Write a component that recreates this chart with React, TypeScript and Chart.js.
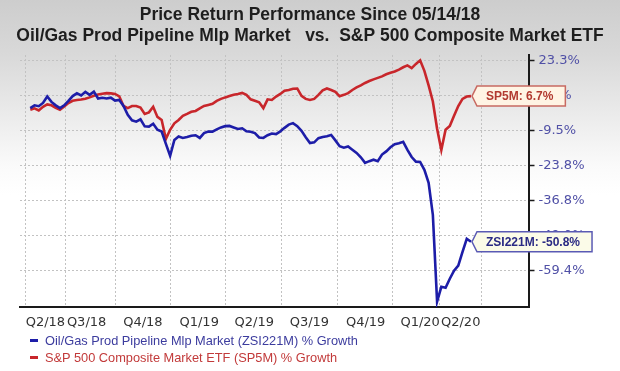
import React, { useEffect, useRef } from 'react';
import { Chart, LineController, LineElement, PointElement, LinearScale, Title } from 'chart.js';

// ---------- data ----------
const START = Date.UTC(2018, 4, 14); // 05/14/18
const dayOf = (s: string) => Math.round((Date.parse(s + 'T00:00:00Z') - START) / 86400000);

const TITLE_LINES = [
  'Price Return Performance Since 05/14/18',
  'Oil/Gas Prod Pipeline Mlp Market   vs.  S&P 500 Composite Market ETF',
];
const SERIES_NAMES = [
  'Oil/Gas Prod Pipeline Mlp Market (ZSI221M) % Growth',
  'S&P 500 Composite Market ETF (SP5M) % Growth',
];
const SERIES_CODES = ['ZSI221M', 'SP5M'];

// weekly % growth since 05/14/18
const ZSI221M = [
  1.1, 2.4, 2.0, 3.5, 6.5, 4.0, 2.4, 1.1, 2.4, 4.5,
  6.7, 8.0, 7.0, 8.7, 7.3, 8.8, 5.6, 5.9, 5.6, 6.0,
  4.6, 4.9, 2.1, -2.0, -4.6, -5.2, -4.1, -7.4, -7.5, -6.2,
  -9.0, -9.8, -14.8, -19.7, -13.2, -11.8, -12.4, -12.0, -11.5, -11.3,
  -12.4, -10.4, -9.8, -9.8, -8.8, -7.9, -7.3, -7.2, -7.9, -8.6,
  -8.3, -9.7, -9.9, -10.4, -12.2, -12.4, -11.3, -10.6, -10.8, -9.7,
  -8.1, -6.6, -5.9, -7.3, -9.5, -12.1, -14.5, -14.2, -12.5, -12.0,
  -11.7, -11.2, -13.4, -15.8, -16.4, -15.9, -17.2, -18.5, -20.3, -22.6,
  -21.9, -21.3, -21.9, -19.2, -17.9, -16.2, -15.0, -14.6, -14.0, -17.3,
  -20.2, -22.1, -22.2, -25.3, -30.1, -41.7, -68.6, -64.2, -64.5, -61.8,
  -59.4, -57.9, -53.8, -49.9, -50.8,
];
const SP5M = [
  0.3, 1.0, 0.0, 1.7, 2.8, 2.4, 1.2, 0.3, 1.9, 3.5,
  4.5, 4.9, 5.1, 5.5, 6.1, 6.9, 7.5, 7.8, 8.1, 8.0,
  7.7, 6.6, 2.1, 1.1, 2.1, 2.1, 1.4, -1.6, -0.9, 1.7,
  -3.0, -4.4, -12.8, -9.0, -6.0, -4.4, -2.5, -1.6, -0.6, -0.2,
  1.0, 2.1, 2.6, 3.1, 4.5, 5.4, 6.1, 6.7, 7.3, 7.7,
  8.2, 7.3, 5.2, 4.5, 3.8, 1.1, 5.2, 4.9, 6.5, 7.7,
  9.2, 9.6, 10.2, 10.3, 6.8, 5.4, 4.9, 5.4, 7.3, 9.4,
  10.3, 9.6, 8.7, 6.6, 7.3, 8.1, 9.6, 10.8, 11.8, 12.9,
  13.8, 14.6, 15.3, 16.0, 17.0, 17.7, 18.3, 19.2, 20.3, 21.2,
  19.9, 21.9, 23.6, 18.6, 11.8, 4.2, -8.5, -17.3, -9.0, -7.2,
  -2.5, 2.1, 5.4, 6.5, 6.7,
];
// weekly observation dates (days since start)
const OBS_DAYS = ZSI221M.map((_, i) => 7 * i);

const Y_TICKS = [23.3, 6.8, -9.5, -23.8, -36.8, -49.0, -59.4];
const Y_MIN = -70.2;
const Y_MAX = 26.1;

const X_MIN = dayOf('2018-04-27');
const X_MAX = dayOf('2020-08-14');
const X_GRID_DATES = ['2018-05-06', '2018-07-11', '2018-10-02', '2019-01-01', '2019-04-02', '2019-07-03', '2019-10-03', '2020-01-03', '2020-03-20', '2020-05-28'];
const X_LABELS = ['Q2/18', 'Q3/18', 'Q4/18', 'Q1/19', 'Q2/19', 'Q3/19', 'Q4/19', 'Q1/20', 'Q2/20'];
const X_LABEL_DATES = ['2018-06-08', '2018-08-15', '2018-11-16', '2019-02-17', '2019-05-19', '2019-08-18', '2019-11-19', '2020-02-17', '2020-04-24'];

// ---------- styles ----------
const SANS = '"Liberation Sans", Arial, sans-serif';
const COLORS = ['#1d1da8', '#c8262b'];
const LEGEND_TEXT = ['#3c3c9e', '#c23a3a'];
const CALLOUT = [
  { fill: '#fbfbe8', border: '#5a5ab4', text: '#2a2a84' },
  { fill: '#fff4e4', border: '#c86a62', text: '#b23a30' },
];
const GRID = '#c2c2c2';

// ---------- piecewise y scale ----------
const Y_ASC = [...Y_TICKS].sort((a, b) => a - b);
function yPos(v: number): number {
  const t = Y_ASC;
  const n = t.length;
  let i = 0;
  while (i < n - 2 && v > t[i + 1]) i++;
  return i + (v - t[i]) / (t[i + 1] - t[i]);
}
function yVal(p: number): number {
  const t = Y_ASC;
  const n = t.length;
  const i = Math.max(0, Math.min(n - 2, Math.floor(p)));
  return t[i] + (p - i) * (t[i + 1] - t[i]);
}
class PiecewiseScale extends LinearScale {
  static id = 'piecewise';
  static defaults = LinearScale.defaults;
  buildTicks() {
    return Y_TICKS.map((v) => ({ value: v }));
  }
  getPixelForValue(value: any) {
    if (value === null || value === undefined || isNaN(value)) return NaN;
    const a = yPos(this.min);
    const b = yPos(this.max);
    return this.getPixelForDecimal((yPos(value) - a) / (b - a));
  }
  getValueForPixel(pixel: number) {
    const a = yPos(this.min);
    const b = yPos(this.max);
    return yVal(a + this.getDecimalForPixel(pixel) * (b - a));
  }
}

Chart.register(LineController, LineElement, PointElement, LinearScale, Title, PiecewiseScale);

const calloutPlugin = {
  id: 'callouts',
  afterDatasetsDraw(chart: any) {
    const ctx = chart.ctx;
    chart.data.datasets.forEach((ds: any, i: number) => {
      const meta = chart.getDatasetMeta(i);
      const pt = meta.data[meta.data.length - 1];
      if (!pt) return;
      const last = ds.data[ds.data.length - 1].y;
      const text = `${SERIES_CODES[i]}: ${last.toFixed(1)}%`;
      const st = CALLOUT[i];
      ctx.save();
      ctx.font = `bold 12px ${SANS}`;
      const tw = ctx.measureText(text).width;
      const x0 = pt.x + 1;
      const y0 = pt.y;
      const h = 10;
      const x1 = x0 + 5;
      const x2 = x0 + 14 + tw + 12;
      ctx.beginPath();
      ctx.moveTo(x0, y0);
      ctx.lineTo(x1, y0 - h);
      ctx.lineTo(x2, y0 - h);
      ctx.lineTo(x2, y0 + h);
      ctx.lineTo(x1, y0 + h);
      ctx.closePath();
      ctx.fillStyle = st.fill;
      ctx.fill();
      ctx.lineWidth = 1.5;
      ctx.strokeStyle = st.border;
      ctx.stroke();
      ctx.fillStyle = st.text;
      ctx.textBaseline = 'middle';
      ctx.textAlign = 'left';
      ctx.fillText(text, x0 + 14, y0 + 0.5);
      ctx.restore();
    });
  },
};

export default function App() {
  const ref = useRef<HTMLCanvasElement | null>(null);

  useEffect(() => {
    if (!ref.current) return;
    const chart = new Chart(ref.current, {
      type: 'line',
      data: {
        datasets: [
          {
            label: SERIES_NAMES[0],
            data: ZSI221M.map((v, i) => ({ x: OBS_DAYS[i], y: v })),
            borderColor: COLORS[0],
            borderWidth: 2.6,
            pointRadius: 0,
            tension: 0,
            xAxisID: 'x',
            yAxisID: 'y',
          },
          {
            label: SERIES_NAMES[1],
            data: SP5M.map((v, i) => ({ x: OBS_DAYS[i], y: v })),
            borderColor: COLORS[1],
            borderWidth: 2.6,
            pointRadius: 0,
            tension: 0,
            xAxisID: 'x',
            yAxisID: 'y',
          },
        ],
      },
      options: {
        responsive: false,
        animation: false,
        events: [],
        layout: { padding: { left: 0, right: 0, top: 0, bottom: 37 } },
        plugins: {
          title: {
            display: true,
            text: TITLE_LINES,
            color: '#1e1e1e',
            font: { family: SANS, size: 17.5, weight: 'bold', lineHeight: 1.22 },
            padding: { top: 4, bottom: 8.3 },
          },
        },
        scales: {
          x: {
            type: 'linear',
            position: 'bottom',
            min: X_MIN,
            max: X_MAX,
            weight: 0,
            afterBuildTicks: (ax: any) => {
              ax.ticks = X_GRID_DATES.map((d) => ({ value: dayOf(d) }));
            },
            ticks: { display: false },
            grid: { color: GRID, drawTicks: false, lineWidth: 1 },
            border: { display: true, color: '#1a1a1a', width: 2, dash: [2, 2] },
            afterFit: (s: any) => {
              s.height = 1;
            },
          },
          x2: {
            type: 'linear',
            position: 'bottom',
            min: X_MIN,
            max: X_MAX,
            weight: 1,
            afterBuildTicks: (ax: any) => {
              ax.ticks = X_LABEL_DATES.map((d) => ({ value: dayOf(d) }));
            },
            ticks: {
              autoSkip: false,
              maxRotation: 0,
              padding: 7,
              color: '#333333',
              font: { family: '"DejaVu Sans", Verdana, sans-serif', size: 13 },
              callback: (_v: any, i: number) => X_LABELS[i],
            },
            grid: { display: false, drawTicks: false },
            border: { display: false },
            afterFit: (s: any) => {
              s.height = 26;
            },
          },
          yl: {
            type: 'linear',
            position: 'left',
            ticks: { display: false },
            grid: { display: false, drawTicks: false },
            border: { display: false },
            afterFit: (s: any) => {
              s.width = 20;
            },
          },
          y: {
            type: 'piecewise',
            position: 'right',
            min: Y_MIN,
            max: Y_MAX,
            ticks: {
              autoSkip: false,
              padding: 4,
              color: '#5050a6',
              font: { family: '"DejaVu Sans", Verdana, sans-serif', size: 13 },
              callback: (v: any) => `${Number(v).toFixed(1)}%`,
            },
            grid: { color: GRID, tickColor: '#1a1a1a', tickLength: 6, tickWidth: 1.5, drawTicks: true },
            border: { display: true, color: '#1a1a1a', width: 2, dash: [2, 2] },
            afterFit: (s: any) => {
              s.width = 91.5;
            },
          },
        } as any,
      },
      plugins: [calloutPlugin],
    } as any);
    return () => chart.destroy();
  }, []);

  return (
    <div
      style={{
        position: 'fixed',
        left: 0,
        top: 0,
        width: 620,
        height: 371,
        overflow: 'hidden',
        background: 'linear-gradient(to bottom, #cdcdcd 0px, #d9d9d9 55px, #ebebeb 115px, #fafafa 165px, #ffffff 195px)',
      }}
    >
      <canvas ref={ref} width={620} height={371} style={{ display: 'block', position: 'absolute', left: 0, top: 0 }} />
      {SERIES_NAMES.map((name, i) => (
        <div
          key={name}
          style={{
            position: 'absolute',
            left: 30,
            top: 332 + i * 17,
            height: 17,
            lineHeight: '17px',
            fontFamily: SANS,
            fontSize: 12.8,
            color: LEGEND_TEXT[i],
            whiteSpace: 'nowrap',
            display: 'flex',
            alignItems: 'center',
          }}
        >
          <span style={{ display: 'inline-block', width: 8, height: 3, background: COLORS[i], marginRight: 7 }} />
          <span>{name}</span>
        </div>
      ))}
    </div>
  );
}
